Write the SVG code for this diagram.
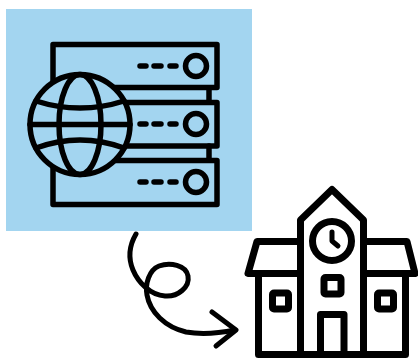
<svg xmlns="http://www.w3.org/2000/svg" width="418" height="358" viewBox="0 0 418 358">
<style>
.k{fill:none;stroke:#000;stroke-linecap:round;stroke-linejoin:round}
.s{stroke-width:5.5}
.h{stroke-width:7}
.a{stroke-width:5}
</style>
<rect width="418" height="358" fill="#fff"/>
<g id="server-globe">
<rect x="6" y="9" width="246" height="222" fill="#a3d5f0"/>
<g class="k s">
<rect x="53" y="44.500" width="164" height="43"/>
<rect x="53" y="102.500" width="164" height="43.500"/>
<rect x="53" y="160.500" width="164" height="44"/>
<path d="M209 88V102M209 146V160"/>
<circle cx="196" cy="66" r="10.500"/>
<circle cx="196" cy="124" r="10.500"/>
<circle cx="196" cy="182" r="10.500"/>
<path d="M140 66H146M154 66H161M170 66H176M140 124H146M154 124H161M170 124H176M140 182H146M154 182H161M170 182H176"/>
<circle cx="80" cy="124.500" r="50" fill="#a3d5f0"/>
<ellipse cx="80" cy="124.500" rx="21" ry="50"/>
<path d="M30 124.500H130M36 101Q80 115 124 101M36 148Q80 132 124 148"/>
</g>
</g>
<g id="school">
<g class="k h">
<path d="M300.500 354V220L332 189.500L363.500 220V354"/>
<circle cx="332" cy="241" r="19.500"/>
<path d="M332 232V241L338 246" stroke-width="5"/>
<rect x="324" y="277.500" width="17" height="16.500" rx="1.500"/>
<path d="M320.500 354V314.500H344V354"/>
<path d="M300 241.500H257L248 273.500H300M364 241.500H407L415 273.500H364"/>
<path d="M258.500 274V354.500H405.500V274"/>
<rect x="272.500" y="293" width="16" height="16" rx="1.500"/>
<rect x="377.500" y="293" width="16" height="16" rx="1.500"/>
</g>
</g>
<g id="connectors">
<path class="k a" d="M136 234C129 246 128 258 133 270C138 282 150 295 165 296C178 297 190 287 188 276C186 265 170 262 159 266C149 270 145 284 147 295C150 312 165 327 186 332C203 335 220 333 235 330"/>
<path class="k a" d="M212 312L236 330L216 346"/>
</g>
</svg>
